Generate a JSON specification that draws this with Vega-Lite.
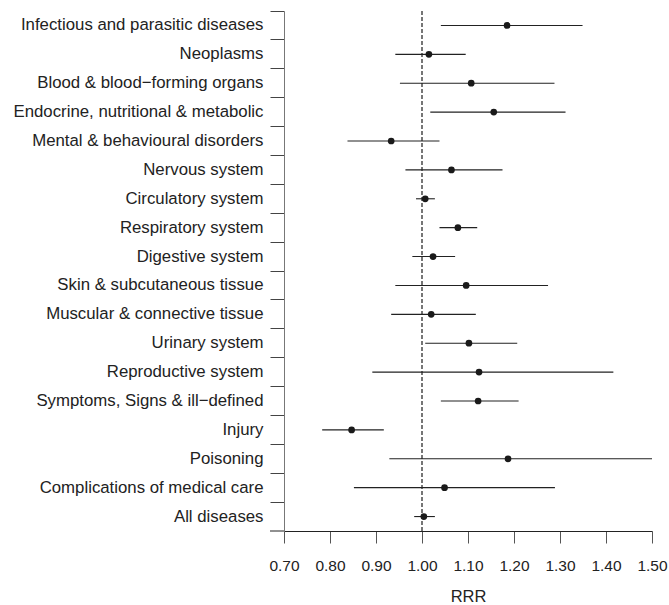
{
  "$schema": "https://vega.github.io/schema/vega-lite/v6.json",
  "width": 368,
  "height": 520,
  "autosize": {"type": "none"},
  "padding": {"left": 284, "top": 11, "right": 17, "bottom": 74},
  "background": "white",
  "config": {
    "view": {"stroke": null},
    "font": "Liberation Sans",
    "axis": {"labelFont": "Liberation Sans", "titleFont": "Liberation Sans", "grid": false}
  },
  "data": {
    "values": [
      {"cause": "Infectious and parasitic diseases", "rrr": 1.185, "lo": 1.041, "hi": 1.349},
      {"cause": "Neoplasms", "rrr": 1.015, "lo": 0.942, "hi": 1.095},
      {"cause": "Blood & blood\u2212forming organs", "rrr": 1.107, "lo": 0.952, "hi": 1.288},
      {"cause": "Endocrine, nutritional & metabolic", "rrr": 1.156, "lo": 1.018, "hi": 1.312},
      {"cause": "Mental & behavioural disorders", "rrr": 0.933, "lo": 0.838, "hi": 1.038},
      {"cause": "Nervous system", "rrr": 1.064, "lo": 0.964, "hi": 1.175},
      {"cause": "Circulatory system", "rrr": 1.007, "lo": 0.987, "hi": 1.028},
      {"cause": "Respiratory system", "rrr": 1.078, "lo": 1.038, "hi": 1.120},
      {"cause": "Digestive system", "rrr": 1.024, "lo": 0.979, "hi": 1.072},
      {"cause": "Skin & subcutaneous tissue", "rrr": 1.096, "lo": 0.942, "hi": 1.274},
      {"cause": "Muscular & connective tissue", "rrr": 1.020, "lo": 0.933, "hi": 1.117},
      {"cause": "Urinary system", "rrr": 1.102, "lo": 1.007, "hi": 1.207},
      {"cause": "Reproductive system", "rrr": 1.124, "lo": 0.892, "hi": 1.416},
      {"cause": "Symptoms, Signs & ill\u2212defined", "rrr": 1.122, "lo": 1.041, "hi": 1.210},
      {"cause": "Injury", "rrr": 0.847, "lo": 0.783, "hi": 0.917},
      {"cause": "Poisoning", "rrr": 1.187, "lo": 0.929, "hi": 1.500},
      {"cause": "Complications of medical care", "rrr": 1.049, "lo": 0.852, "hi": 1.289},
      {"cause": "All diseases", "rrr": 1.004, "lo": 0.983, "hi": 1.028}
    ]
  },
  "encoding": {
    "y": {
      "field": "cause", "type": "nominal", "sort": null,
      "scale": {"paddingInner": 0, "paddingOuter": 0},
      "axis": {
        "title": null, "bandPosition": 0,
        "tickSize": 14, "labelPadding": 7, "labelFontSize": 16.8, "labelColor": "#222",
        "domainColor": "#777", "tickColor": "#444", "labelLimit": 400
      }
    }
  },
  "layer": [
    {
      "mark": {"type": "rule", "stroke": "#777", "strokeDash": [4, 2], "strokeWidth": 1},
      "encoding": {"x": {"datum": 1.0, "type": "quantitative"}, "y": null}
    },
    {
      "mark": {"type": "rule", "stroke": "#222", "strokeWidth": 1.1},
      "encoding": {
        "x": {
          "field": "lo", "type": "quantitative",
          "scale": {"domain": [0.7, 1.5], "nice": false, "zero": false},
          "axis": {
            "title": "RRR", "values": [0.7, 0.8, 0.9, 1.0, 1.1, 1.2, 1.3, 1.4, 1.5], "format": ".2f",
            "tickSize": 12, "labelPadding": 15, "labelFontSize": 15.5, "labelColor": "#222",
            "titleFontSize": 16.5, "titleFontWeight": "normal", "titleColor": "#222", "titlePadding": 15,
            "domainColor": "#222", "tickColor": "#555", "labelFlush": false
          }
        },
        "x2": {"field": "hi"}
      }
    },
    {
      "mark": {"type": "circle", "color": "#1a1a1a", "opacity": 1, "size": 45},
      "encoding": {"x": {"field": "rrr", "type": "quantitative"}}
    },
    {
      "data": {"values": [{"cause": "All diseases", "a": 0.6696, "b": 0.7}]},
      "mark": {"type": "rule", "stroke": "#222", "strokeWidth": 1},
      "encoding": {
        "y": {"field": "cause", "type": "nominal", "bandPosition": 1},
        "x": {"field": "a", "type": "quantitative"},
        "x2": {"field": "b"}
      }
    }
  ]
}
